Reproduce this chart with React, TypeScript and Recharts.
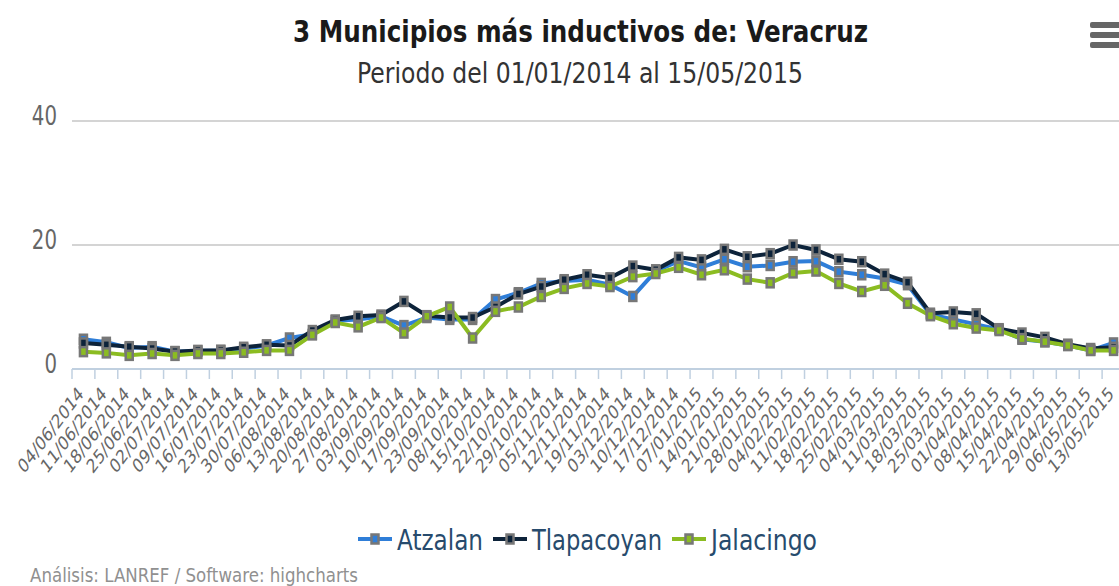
import React from "react";
import { LineChart, Line, XAxis, YAxis, ReferenceLine } from "recharts";

const dates = [
  "04/06/2014", "11/06/2014", "18/06/2014", "25/06/2014", "02/07/2014", "09/07/2014",
  "16/07/2014", "23/07/2014", "30/07/2014", "06/08/2014", "13/08/2014", "20/08/2014",
  "27/08/2014", "03/09/2014", "10/09/2014", "17/09/2014", "23/09/2014", "08/10/2014",
  "15/10/2014", "22/10/2014", "29/10/2014", "05/11/2014", "12/11/2014", "19/11/2014",
  "03/12/2014", "10/12/2014", "17/12/2014", "07/01/2015", "14/01/2015", "21/01/2015",
  "28/01/2015", "04/02/2015", "11/02/2015", "18/02/2015", "25/02/2015", "04/03/2015",
  "11/03/2015", "18/03/2015", "25/03/2015", "01/04/2015", "08/04/2015", "15/04/2015",
  "22/04/2015", "29/04/2015", "06/05/2015", "13/05/2015",
];

const atzalan = [
  4.8, 4.3, 3.4, 3.6, 2.8, 2.9, 3.0, 3.3, 3.8, 5.0, 5.6, 7.8,
  8.0, 8.5, 7.0, 8.3, 8.0, 8.0, 11.2, 12.3, 13.8, 14.2, 14.4, 13.6,
  11.7, 15.8, 17.4, 16.4, 17.7, 16.5, 16.7, 17.3, 17.4, 15.7, 15.2, 14.6,
  13.6, 8.8, 8.0, 7.2, 6.4, 4.8, 4.4, 3.8, 3.0, 4.2,
];

const tlapacoyan = [
  4.2, 3.9, 3.6, 3.3, 2.8, 3.0, 3.0, 3.5, 3.9, 3.8, 6.2, 7.9,
  8.5, 8.7, 10.9, 8.6, 8.3, 8.3, 10.0, 12.1, 13.3, 14.4, 15.2, 14.7,
  16.6, 16.0, 18.0, 17.6, 19.3, 18.1, 18.6, 20.0, 19.2, 17.7, 17.3, 15.3,
  14.0, 9.0, 9.2, 8.9, 6.5, 5.8, 5.1, 4.0, 3.3, 3.5,
];

const jalacingo = [
  2.8, 2.6, 2.2, 2.5, 2.2, 2.5, 2.5, 2.7, 3.0, 3.0, 5.5, 7.5,
  6.8, 8.3, 5.8, 8.5, 10.0, 5.0, 9.3, 10.0, 11.7, 13.0, 13.8, 13.3,
  14.9, 15.4, 16.4, 15.2, 16.0, 14.5, 13.9, 15.5, 15.8, 13.8, 12.5, 13.5,
  10.6, 8.6, 7.3, 6.6, 6.2, 4.9, 4.4, 3.8, 3.0, 3.0,
];

const yTicks = [0, 20, 40];
const gridValues = [20, 40];

const SERIES = [
  { key: "atzalan", name: "Atzalan", color: "#2f7ed8" },
  { key: "tlapacoyan", name: "Tlapacoyan", color: "#0d233a" },
  { key: "jalacingo", name: "Jalacingo", color: "#8bbc21" },
];

const data = dates.map((date, i) => ({
  date,
  atzalan: atzalan[i],
  tlapacoyan: tlapacoyan[i],
  jalacingo: jalacingo[i],
}));

const FONT = "'DejaVu Sans', Verdana, sans-serif";
const SX = 0.76; // the reference text is horizontally squeezed
const WIDTH = 1125;
const HEIGHT = 586;
const LEFT = 72;
const STEP = (WIDTH - LEFT) / dates.length;

function SquareDot({ cx, cy, color }: { cx?: number; cy?: number; color: string }) {
  if (cx == null || cy == null) return null;
  return (
    <rect
      x={cx - 3.5}
      y={cy - 4.5}
      width={7}
      height={9}
      fill={color}
      stroke="#777"
      strokeWidth={2.5}
    />
  );
}

function DateTick({ x, y, payload }: any) {
  return (
    <g>
      <line
        x1={x - STEP / 2}
        x2={x - STEP / 2}
        y1={y}
        y2={y + 10}
        stroke="#C0D0E0"
        strokeWidth={1.5}
      />
      <text
        transform={`translate(${x + 1},${y + 26}) scale(${SX},1) rotate(-45)`}
        textAnchor="end"
        fontSize={19.5}
        fill="#666"
        fontFamily={FONT}
      >
        {payload.value}
      </text>
    </g>
  );
}

function ValueTick({ y, payload }: any) {
  return (
    <text
      transform={`translate(57,${y + 4}) scale(${SX},1)`}
      textAnchor="end"
      fontSize={26}
      fill="#666"
      fontFamily={FONT}
    >
      {payload.value}
    </text>
  );
}

function LegendItem({ x, color, label, width }: { x: number; color: string; label: string; width: number }) {
  return (
    <g>
      <line x1={x} x2={x + 34} y1={539} y2={539} stroke={color} strokeWidth={4} />
      <SquareDot cx={x + 17} cy={539} color={color} />
      <text
        x={x + 39}
        y={550}
        fontSize={29}
        fill="#274b6d"
        fontFamily={FONT}
        textLength={width}
        lengthAdjust="spacingAndGlyphs"
      >
        {label}
      </text>
    </g>
  );
}

export default function App() {
  return (
    <div
      style={{
        position: "absolute",
        left: 0,
        top: 0,
        width: 1119,
        height: 586,
        overflow: "hidden",
        background: "#fff",
      }}
    >
      <LineChart
        width={WIDTH}
        height={HEIGHT}
        data={data}
        margin={{ top: 121, right: 0, bottom: 0, left: 0 }}
      >
        {gridValues.map((v) => (
          <ReferenceLine key={v} y={v} stroke="#C6C6C6" strokeWidth={1.5} />
        ))}
        <XAxis
          dataKey="date"
          scale="point"
          interval={0}
          height={HEIGHT - 369}
          padding={{ left: STEP / 2, right: STEP / 2 }}
          axisLine={{ stroke: "#C0D0E0", strokeWidth: 2 }}
          tickLine={false}
          tickSize={0}
          tickMargin={0}
          tick={<DateTick />}
        />
        <YAxis
          width={LEFT}
          domain={[0, 40]}
          ticks={yTicks}
          axisLine={false}
          tickLine={false}
          tickSize={0}
          tickMargin={0}
          tick={<ValueTick />}
        />
        {SERIES.map((s) => (
          <Line
            key={s.key}
            type="linear"
            dataKey={s.key}
            name={s.name}
            stroke={s.color}
            strokeWidth={4}
            isAnimationActive={false}
            activeDot={false}
            dot={(p: any) => <SquareDot key={p.index} cx={p.cx} cy={p.cy} color={s.color} />}
          />
        ))}
      </LineChart>

      <svg
        width={1119}
        height={586}
        style={{ position: "absolute", left: 0, top: 0, pointerEvents: "none" }}
      >
        <text
          x={293}
          y={42}
          fontSize={31}
          fontWeight="bold"
          fill="#1a1a1a"
          fontFamily={FONT}
          textLength={575}
          lengthAdjust="spacingAndGlyphs"
        >
          3 Municipios más inductivos de: Veracruz
        </text>
        <text
          x={357}
          y={83}
          fontSize={28}
          fill="#333"
          fontFamily={FONT}
          textLength={446}
          lengthAdjust="spacingAndGlyphs"
        >
          Periodo del 01/01/2014 al 15/05/2015
        </text>

        <rect x={1090} y={22} width={34} height={6} rx={2} fill="#666" />
        <rect x={1090} y={32} width={34} height={6} rx={2} fill="#666" />
        <rect x={1090} y={42} width={34} height={6} rx={2} fill="#666" />

        <LegendItem x={358} color={SERIES[0].color} label="Atzalan" width={86} />
        <LegendItem x={493} color={SERIES[1].color} label="Tlapacoyan" width={130} />
        <LegendItem x={672} color={SERIES[2].color} label="Jalacingo" width={106} />

        <text
          x={30}
          y={582}
          fontSize={20}
          fill="#909090"
          fontFamily={FONT}
          textLength={328}
          lengthAdjust="spacingAndGlyphs"
        >
          Análisis: LANREF / Software: highcharts
        </text>
      </svg>
    </div>
  );
}
